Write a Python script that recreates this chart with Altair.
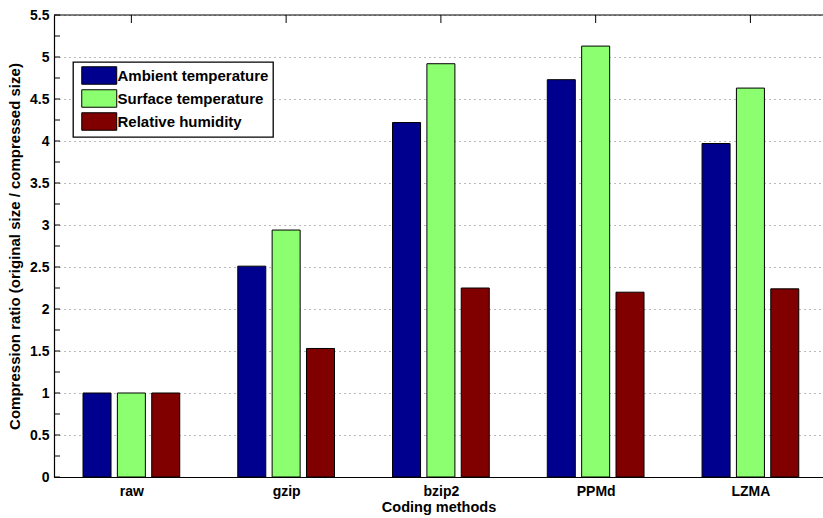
import json
import altair as alt
import pandas as pd

# Compression ratio (original size / compressed size) per coding method
methods = ["raw", "gzip", "bzip2", "PPMd", "LZMA"]
series = ["Ambient temperature", "Surface temperature", "Relative humidity"]
ambient = [1.0, 2.51, 4.22, 4.73, 3.97]
surface = [1.0, 2.94, 4.92, 5.13, 4.63]
humidity = [1.0, 1.53, 2.25, 2.20, 2.24]
colors = ["#00008F", "#8CFF70", "#800000"]

y_major = [i * 0.5 for i in range(12)]
y_minor = [i * 0.25 for i in range(23)]

FONT = "Liberation Sans"
W, H = 769, 462

rows = []
for j, (name, vals) in enumerate(zip(series, [ambient, surface, humidity])):
    for i, (m, v) in enumerate(zip(methods, vals)):
        rows.append({"method": m, "group": i + 1, "series": name, "slot": j, "value": v})
df = pd.DataFrame(rows)

x_scale = alt.Scale(domain=[0.5, 5.469], nice=False, zero=False)
y_scale = alt.Scale(domain=[0, 5.5], nice=False)

label_expr = f"{json.dumps(methods)}[datum.value - 1]"

bars = (
    alt.Chart(df)
    .transform_calculate(
        x0="datum.group + (datum.slot - 1) * 0.222 - 0.0905",
        x1="datum.group + (datum.slot - 1) * 0.222 + 0.0905",
    )
    .mark_bar(stroke="black", strokeWidth=1, clip=True)
    .encode(
        x=alt.X(
            "x0:Q",
            scale=x_scale,
            axis=alt.Axis(
                values=[1, 2, 3, 4, 5],
                labelExpr=label_expr,
                title="Coding methods",
                grid=False,
                ticks=False,
                labelFont=FONT,
                labelFontSize=14,
                labelFontWeight="bold",
                labelColor="black",
                labelPadding=7,
                titleFont=FONT,
                titleFontSize=14.5,
                titleFontWeight="bold",
                titleColor="black",
                titlePadding=2,
                domainColor="black",
                domainWidth=1.2,
            ),
        ),
        x2="x1:Q",
        y=alt.Y(
            "value:Q",
            scale=y_scale,
            axis=alt.Axis(
                values=y_major,
                format="~g",
                title="Compression ratio (original size / compressed size)",
                grid=True,
                gridDash=[1, 4],
                gridColor="#777777",
                gridWidth=1,
                ticks=False,
                labelFont=FONT,
                labelFontSize=14,
                labelFontWeight="bold",
                labelColor="black",
                labelPadding=5,
                titleFont=FONT,
                titleFontSize=15,
                titleFontWeight="bold",
                titleColor="black",
                titlePadding=7.5,
                domainColor="black",
                domainWidth=1.2,
            ),
        ),
        y2=alt.datum(0),
        color=alt.Color(
            "series:N",
            scale=alt.Scale(domain=series, range=colors),
            sort=series,
            legend=alt.Legend(
                title=None,
                orient="none",
                legendX=19,
                legendY=47,
                padding=4,
                strokeColor="black",
                fillColor="white",
                symbolType="M-2,-1H2V1H-2Z",
                symbolSize=306,
                symbolStrokeColor="black",
                symbolStrokeWidth=1,
                symbolOpacity=1,
                symbolOffset=12.75,
                labelOffset=8.75,
                labelFont=FONT,
                labelFontSize=15,
                labelFontWeight="bold",
                labelColor="black",
                rowPadding=0,
            ),
        ),
    )
)

# Inward tick marks on the left axis
left_ticks = (
    alt.Chart(pd.DataFrame({"v": y_minor}))
    .mark_rule(color="black", strokeWidth=1)
    .encode(y=alt.Y("v:Q", scale=y_scale), x=alt.value(0), x2=alt.value(6))
)

# Top border of the axes box with inward category ticks
top_line = (
    alt.Chart(pd.DataFrame({"v": [5.5]}))
    .mark_rule(color="black", strokeWidth=1.2)
    .encode(y=alt.Y("v:Q", scale=y_scale), x=alt.value(0), x2=alt.value(W))
)
top_ticks = (
    alt.Chart(pd.DataFrame({"g": [1, 2, 3, 4, 5]}))
    .mark_rule(color="black", strokeWidth=1)
    .encode(x=alt.X("g:Q", scale=x_scale), y=alt.value(0), y2=alt.value(8))
)

chart = (
    alt.layer(bars, left_ticks, top_line, top_ticks)
    .properties(
        width=W,
        height=H,
        autosize=alt.AutoSizeParams(type="none"),
        padding={"left": 54, "top": 15, "right": 0, "bottom": 41},
        background="white",
    )
    .configure_view(stroke=None)
    .configure_legend(strokeWidth=1.3)
)

chart.save("out.html", embed_options={"renderer": "svg", "actions": False})
